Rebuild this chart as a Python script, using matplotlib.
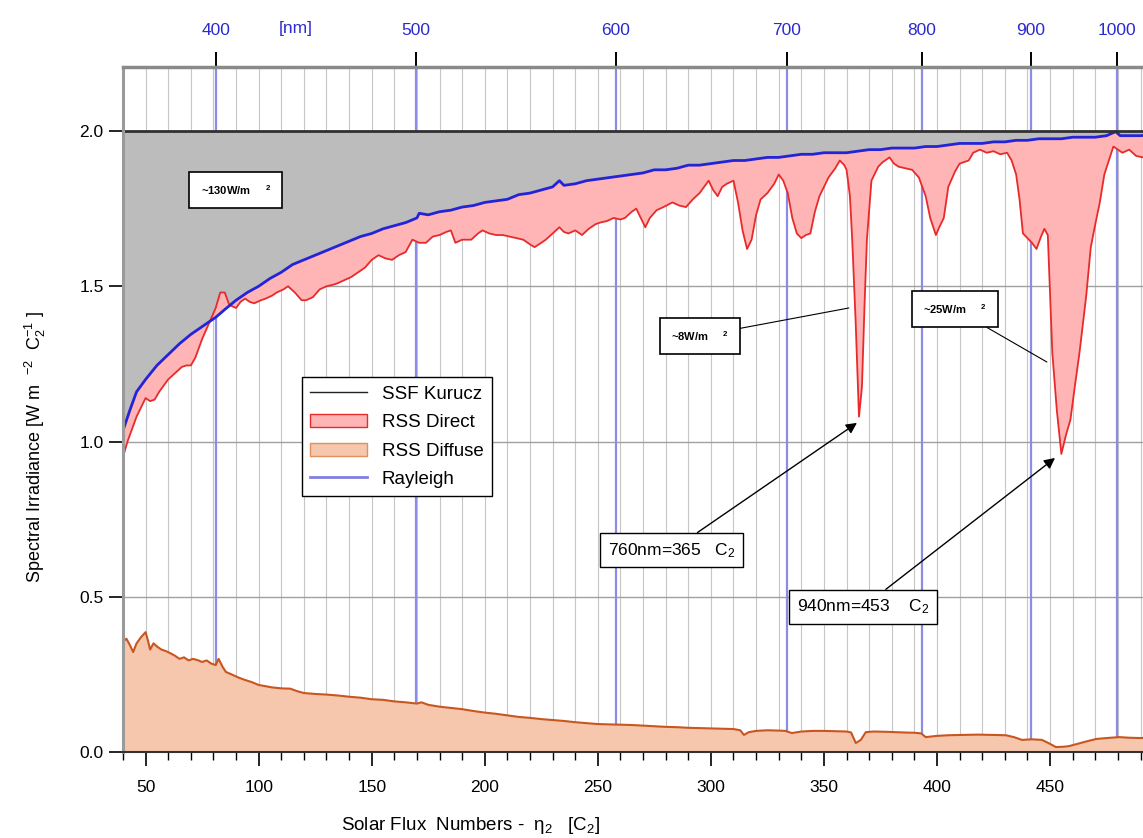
import matplotlib
matplotlib.use('Agg')
import matplotlib.pyplot as plt
from matplotlib.lines import Line2D
from matplotlib.patches import Patch
import numpy as np

plt.rcParams['font.family'] = ['Liberation Sans', 'DejaVu Sans']
plt.rcParams['mathtext.default'] = 'regular'

# Rayleigh-only spectrum (solar flux number vs irradiance)
rayleigh_x = [40, 43, 46, 50, 55, 60, 65, 70, 75, 81, 85, 90, 95, 100, 105, 110, 115, 120,
              125, 130, 135, 140, 145, 150, 155, 160, 165, 170, 171, 175, 180, 185, 190, 195,
              200, 205, 210, 215, 220, 225, 230, 233, 235, 240, 245, 250, 255, 260, 265, 270,
              275, 280, 285, 290, 295, 300, 305, 310, 315, 320, 325, 330, 335, 340, 345, 350,
              355, 360, 365, 370, 375, 380, 385, 390, 395, 400, 405, 410, 415, 420, 425, 430,
              435, 440, 445, 450, 455, 460, 465, 470, 475, 479, 481, 485, 490, 500]
rayleigh_y = [1.035, 1.10, 1.16, 1.20, 1.245, 1.28, 1.315, 1.345, 1.37, 1.40, 1.425, 1.455,
              1.48, 1.50, 1.525, 1.545, 1.57, 1.585, 1.60, 1.615, 1.63, 1.645, 1.66, 1.67,
              1.685, 1.695, 1.705, 1.72, 1.735, 1.73, 1.74, 1.745, 1.755, 1.76, 1.77, 1.775,
              1.78, 1.795, 1.80, 1.81, 1.82, 1.84, 1.825, 1.83, 1.84, 1.845, 1.85, 1.855,
              1.86, 1.865, 1.875, 1.875, 1.88, 1.89, 1.89, 1.895, 1.90, 1.905, 1.905, 1.91,
              1.915, 1.915, 1.92, 1.925, 1.925, 1.93, 1.93, 1.93, 1.935, 1.94, 1.94, 1.945,
              1.945, 1.945, 1.95, 1.95, 1.955, 1.96, 1.96, 1.96, 1.965, 1.965, 1.97, 1.97,
              1.975, 1.975, 1.975, 1.98, 1.98, 1.98, 1.985, 1.998, 1.985, 1.985, 1.985, 1.99]

# RSS direct beam
direct_x = [40, 42, 44, 46, 48, 50, 52, 54, 56, 58, 60, 63, 66, 68, 70, 72, 75, 78, 81, 83,
            85, 87, 90, 92, 94, 96, 98, 101, 103, 106, 108, 111, 113, 116, 119, 121, 124, 127,
            130, 133, 135, 138, 141, 144, 147, 150, 153, 156, 159, 162, 165, 168, 171, 174,
            177, 180, 183, 185, 187, 190, 194, 197, 199, 202, 205, 208, 211, 214, 217, 220,
            222, 225, 227, 230, 233, 235, 237, 240, 243, 246, 249, 251, 254, 257, 260, 262,
            265, 267, 269, 271, 273, 276, 279, 283, 286, 289, 292, 295, 297, 299, 301, 303,
            305, 307, 310, 312, 314, 316, 318, 320, 322, 325, 328, 330, 332, 334, 336, 338,
            340, 342, 344, 346, 348, 352, 355, 357, 359, 360, 361.5, 362.5, 364, 365.5, 366.8,
            368, 369, 371, 374, 376, 379, 381, 383, 386, 389, 392, 395, 397, 399.5, 401, 403,
            405, 408, 410, 412, 414, 416, 419, 422, 425, 428, 431, 433, 435, 436.5, 438, 440,
            442, 444, 446, 447.5, 449, 451, 453, 455, 457, 459, 461, 463, 466, 468, 470, 472,
            474, 476, 478, 480, 482, 485, 488, 491, 494, 497, 500]
direct_y = [0.95, 1.00, 1.04, 1.08, 1.11, 1.14, 1.13, 1.135, 1.16, 1.18, 1.20, 1.22, 1.24,
            1.245, 1.245, 1.27, 1.33, 1.38, 1.43, 1.48, 1.48, 1.44, 1.43, 1.45, 1.46, 1.45,
            1.445, 1.455, 1.46, 1.47, 1.48, 1.49, 1.50, 1.48, 1.455, 1.455, 1.465, 1.49, 1.50,
            1.505, 1.51, 1.52, 1.53, 1.545, 1.56, 1.585, 1.60, 1.59, 1.585, 1.60, 1.61, 1.65,
            1.64, 1.64, 1.66, 1.665, 1.675, 1.68, 1.64, 1.65, 1.65, 1.67, 1.68, 1.67, 1.665,
            1.665, 1.66, 1.655, 1.65, 1.635, 1.626, 1.64, 1.65, 1.67, 1.69, 1.675, 1.67, 1.68,
            1.665, 1.685, 1.70, 1.705, 1.71, 1.72, 1.715, 1.72, 1.74, 1.75, 1.72, 1.69, 1.72,
            1.745, 1.755, 1.77, 1.76, 1.755, 1.78, 1.80, 1.82, 1.84, 1.81, 1.79, 1.82, 1.83,
            1.84, 1.77, 1.68, 1.62, 1.65, 1.73, 1.78, 1.80, 1.83, 1.86, 1.84, 1.80, 1.72, 1.67,
            1.655, 1.665, 1.67, 1.74, 1.79, 1.85, 1.88, 1.905, 1.89, 1.875, 1.79, 1.65, 1.39,
            1.08, 1.175, 1.45, 1.65, 1.84, 1.885, 1.90, 1.915, 1.895, 1.885, 1.88, 1.875, 1.85,
            1.79, 1.72, 1.665, 1.69, 1.72, 1.82, 1.87, 1.895, 1.90, 1.905, 1.93, 1.94, 1.93,
            1.935, 1.925, 1.93, 1.905, 1.86, 1.78, 1.67, 1.655, 1.64, 1.62, 1.66, 1.685, 1.665,
            1.285, 1.10, 0.96, 1.02, 1.07, 1.18, 1.285, 1.47, 1.625, 1.70, 1.77, 1.86, 1.905,
            1.95, 1.94, 1.93, 1.94, 1.92, 1.915, 1.93, 1.92, 1.925]

# RSS diffuse component
diffuse_x = [40, 41.5, 43, 44.5, 46, 48, 50, 51, 52, 53.5, 55, 57, 59, 61, 63, 65, 67, 69, 71,
             73, 75, 77, 79, 81, 82.3, 84, 85.5, 88, 91, 94, 97, 100, 103, 106, 110, 114, 117,
             120, 125, 130, 135, 140, 145, 150, 155, 160, 165, 170, 172, 175, 180, 185, 190,
             195, 200, 205, 210, 215, 220, 225, 230, 235, 240, 245, 250, 255, 260, 265, 270,
             275, 280, 285, 290, 295, 300, 305, 310, 313, 314.6, 316.8, 320, 325, 330, 333,
             335.8, 340, 345, 350, 355, 360, 362, 364.1, 366.3, 368.5, 372, 378, 385, 390, 393,
             395, 400, 405, 411, 418, 425, 430.5, 434, 437.6, 442, 446.4, 449, 452.6, 456,
             458.4, 462, 466, 470.4, 475, 480.6, 485, 490, 495, 500]
diffuse_y = [0.355, 0.365, 0.345, 0.322, 0.35, 0.37, 0.386, 0.36, 0.33, 0.35, 0.34, 0.33,
             0.325, 0.318, 0.31, 0.30, 0.305, 0.295, 0.30, 0.296, 0.29, 0.295, 0.285, 0.28,
             0.30, 0.275, 0.258, 0.25, 0.24, 0.232, 0.225, 0.216, 0.212, 0.208, 0.205, 0.204,
             0.196, 0.19, 0.187, 0.185, 0.182, 0.178, 0.175, 0.17, 0.168, 0.163, 0.16, 0.156,
             0.16, 0.152, 0.146, 0.142, 0.138, 0.132, 0.127, 0.123, 0.118, 0.113, 0.11, 0.106,
             0.103, 0.10, 0.096, 0.093, 0.09, 0.089, 0.088, 0.087, 0.085, 0.083, 0.081, 0.08,
             0.078, 0.077, 0.076, 0.075, 0.074, 0.07, 0.055, 0.064, 0.068, 0.07, 0.069, 0.068,
             0.061, 0.066, 0.068, 0.068, 0.067, 0.066, 0.063, 0.029, 0.039, 0.064, 0.066,
             0.065, 0.063, 0.062, 0.06, 0.048, 0.052, 0.054, 0.055, 0.056, 0.055, 0.054, 0.048,
             0.039, 0.041, 0.039, 0.03, 0.016, 0.017, 0.019, 0.026, 0.034, 0.042, 0.045, 0.048,
             0.046, 0.045, 0.046, 0.045]

# Kurucz level (constant in solar flux number units)
kurucz_level = 2.0

# Wavelength markers [nm] and their solar flux number positions
wavelength_labels = ['400', '500', '600', '700', '800', '900', '1000']
wavelength_pos = [81.0, 169.4, 257.9, 333.5, 393.3, 441.5, 479.5]

x_major = [50, 100, 150, 200, 250, 300, 350, 400, 450]
y_major = [0.0, 0.5, 1.0, 1.5, 2.0]


def draw_background(ax):
    # Thin vertical grid every 10 flux numbers, horizontal grid every 0.5
    for gx in range(50, 500, 10):
        ax.axvline(gx, color='#c6c6c6', lw=0.8, zorder=0.5)
    for gy in [0.5, 1.0, 1.5]:
        ax.axhline(gy, color='#a0a0a0', lw=1.0, zorder=0.5)
    # Wavelength marker lines
    for wx in wavelength_pos:
        ax.axvline(wx, color='#8c8ce6', lw=1.6, zorder=0.6)


def draw_spectra(ax):
    # Gray area: Rayleigh loss below the Kurucz level
    ax.fill_between(rayleigh_x, rayleigh_y, kurucz_level, color='#bcbcbc', lw=0, zorder=1)

    # Pink area between direct beam and Rayleigh curve
    poly_x = np.r_[direct_x, rayleigh_x[::-1]]
    poly_y = np.r_[direct_y, rayleigh_y[::-1]]
    ax.fill(poly_x, poly_y, color='#ffb5b5', lw=0, zorder=1.1)

    # Diffuse area
    ax.fill_between(diffuse_x, 0, diffuse_y, color='#f6c7ad', lw=0, zorder=1.1)

    ax.plot(direct_x, direct_y, color='#e82a2a', lw=1.3, zorder=2)
    ax.plot(diffuse_x, diffuse_y, color='#c9561f', lw=1.5, zorder=2)
    ax.plot(rayleigh_x, rayleigh_y, color='#2424d6', lw=2.0, zorder=2.2)
    ax.axhline(kurucz_level, color='#303030', lw=2.0, zorder=2.5)


def draw_annotations(ax):
    small_box = dict(boxstyle='square,pad=1.0', fc='white', ec='black', lw=1.2)
    big_box = dict(boxstyle='square,pad=0.45', fc='white', ec='black', lw=1.0)
    leader = dict(arrowstyle='-', color='black', lw=0.8, shrinkA=0, shrinkB=0)
    arrow = dict(arrowstyle='-|>', color='black', lw=1.0, mutation_scale=16,
                 shrinkA=0, shrinkB=0)

    ax.text(89.8, 1.81, '~130W/m     $^{2}$', fontsize=8, fontweight='bold',
            ha='center', va='center', bbox=small_box, zorder=5)

    ax.annotate('~8W/m     $^{2}$', xy=(361, 1.43), xytext=(295, 1.34),
                fontsize=8, fontweight='bold', ha='center', va='center',
                bbox=small_box, zorder=5, arrowprops=leader)
    ax.annotate('~25W/m     $^{2}$', xy=(448.6, 1.256), xytext=(407.9, 1.427),
                fontsize=8, fontweight='bold', ha='center', va='center',
                bbox=small_box, zorder=5, arrowprops=leader)

    ax.annotate('760nm=365   C$_{2}$', xy=(364.6, 1.06), xytext=(282.7, 0.65),
                fontsize=12.5, ha='center', va='center', bbox=big_box, zorder=5,
                arrowprops=arrow)
    ax.annotate('940nm=453    C$_{2}$', xy=(452.2, 0.947), xytext=(367.3, 0.467),
                fontsize=12.5, ha='center', va='center', bbox=big_box, zorder=5,
                arrowprops=arrow)


def style_axes(ax):
    ax.set_xlim(40, 500)
    ax.set_ylim(0, 2.206)

    ax.set_xticks(x_major)
    ax.set_xticks(np.arange(40, 500, 10), minor=True)
    ax.set_yticks(y_major)
    ax.set_yticklabels([f'{v:.1f}' for v in y_major])
    ax.tick_params(axis='x', which='major', direction='out', length=10, width=1.2,
                   labelsize=12.5, pad=10)
    ax.tick_params(axis='x', which='minor', direction='out', length=6, width=1.0)
    ax.tick_params(axis='y', direction='out', length=10, width=1.2, labelsize=12.5, pad=4)

    ax.spines['left'].set_color('#9a9a9a')
    ax.spines['left'].set_linewidth(2.2)
    ax.spines['top'].set_color('#8a8a8a')
    ax.spines['top'].set_linewidth(2.5)
    ax.spines['bottom'].set_color('#333333')
    ax.spines['bottom'].set_linewidth(1.5)
    ax.spines['right'].set_visible(False)

    ax.set_xlabel('Solar Flux  Numbers -  \u03b7$_{2}$   [C$_{2}$]', fontsize=13.5)
    ax.xaxis.set_label_coords(0.334, -0.092)
    ax.set_ylabel('Spectral Irradiance [W m  $^{-2}$  C$_{2}^{-1}$ ]', fontsize=13)
    ax.yaxis.set_label_coords(-0.072, 0.445)

    # Wavelength axis on top
    top = ax.secondary_xaxis('top')
    top.set_xticks(wavelength_pos)
    top.set_xticklabels(wavelength_labels)
    top.tick_params(direction='out', length=11, width=1.4, colors='black',
                    labelcolor='#2a2ad0', labelsize=12.5, pad=10)
    top.spines['top'].set_visible(False)
    ax.annotate('[nm]', xy=(116.4, 1.0), xycoords=('data', 'axes fraction'),
                xytext=(0, 22), textcoords='offset points', ha='center', va='bottom',
                color='#2a2ad0', fontsize=12.5)


def draw_legend(ax):
    handles = [
        Line2D([], [], color='#222222', lw=1.0),
        Patch(facecolor='#ffb5b5', edgecolor='#e82a2a', lw=1.0),
        Patch(facecolor='#f6c7ad', edgecolor='#e0905e', lw=1.0),
        Line2D([], [], color='#8080e0', lw=2.0),
    ]
    labels = ['SSF Kurucz', 'RSS Direct', 'RSS Diffuse', 'Rayleigh']
    leg = ax.legend(handles, labels, loc='upper left', bbox_to_anchor=(0.172, 0.547),
                    borderaxespad=0, fontsize=13.5, fancybox=False, framealpha=1,
                    edgecolor='black', handlelength=3.0, labelspacing=0.6,
                    handletextpad=0.8, borderpad=0.45)
    leg.get_frame().set_linewidth(1.0)
    leg.set_zorder(6)


def main():
    fig = plt.figure(figsize=(11.43, 8.38), dpi=100)
    # axes run past the right border of the figure
    ax = fig.add_axes([0.1076, 0.1026, 0.910, 0.8174])

    draw_background(ax)
    draw_spectra(ax)
    draw_annotations(ax)
    style_axes(ax)
    draw_legend(ax)

    fig.savefig('out.png', dpi=100)


if __name__ == "__main__":
    main()
